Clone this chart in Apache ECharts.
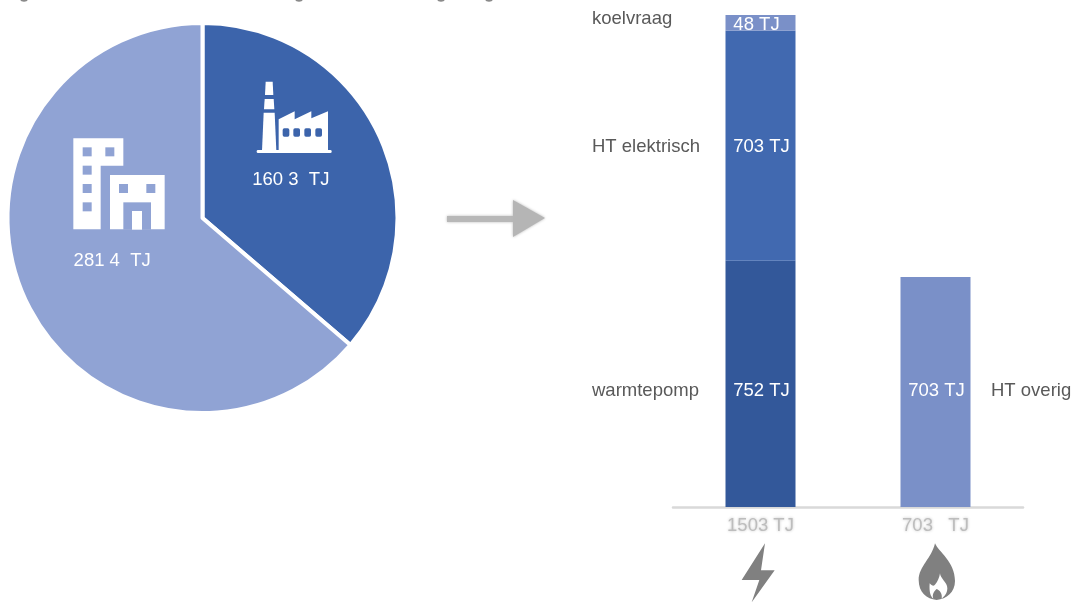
<!DOCTYPE html>
<html><head><meta charset="utf-8">
<style>html,body{margin:0;padding:0;background:#fff}#c{width:1073px;height:602px}</style>
<script src="https://cdn.jsdelivr.net/npm/echarts@6/dist/echarts.min.js"></script>
</head><body><div id="c"></div>
<script>
// Pie
const pieNames = ['industrie', 'gebouwen'];
const pieValues = [160.3, 281.4];
const pieLabels = ['160 3  TJ', '281 4  TJ'];
// Bars
const barCategories = ['1503 TJ', '703   TJ'];
const warmtepomp = [752, null];
const htElektrisch = [703, null];
const koelvraag = [48, null];
const htOverig = [null, 703];
const barLabels = { warmtepomp: '752 TJ', htElektrisch: '703 TJ', koelvraag: '48 TJ', htOverig: '703 TJ' };
const FONT = '"Liberation Sans", Arial, Helvetica, sans-serif';
const TEXT = '#595959';
const FS = 18.5;

echarts.graphic.registerShape('flameOuter', echarts.graphic.extendPath('M825 145 C835 170 885 200 885 258 C885 292 860 312 830 315 C800 312 776 292 776 255 C776 215 815 190 825 145 Z'));
echarts.graphic.registerShape('flameInner', echarts.graphic.extendPath('M840 235 C840 250 862 262 862 280 C862 295 853 305 845 311 C848 295 838 285 830 282 C823 288 815 298 820 311 C812 305 807 292 809 265 C815 272 822 275 826 268 C833 260 838 248 840 235 Z'));

const chart = echarts.init(document.getElementById('c'), null, { renderer: 'canvas' });

function barSeries(name, data, color, label, offsetX, offsetY) {
  return {
    name, type: 'bar', stack: 'total', data, barWidth: 70,
    itemStyle: { color },
    label: {
      show: true, position: 'inside', formatter: label, color: '#fff',
      fontFamily: FONT, fontSize: FS, offset: [offsetX, offsetY]
    }
  };
}
function nameText(text, x, y) {
  return { type: 'text', x, y, z: 20, style: { text, fill: TEXT, font: FS + 'px ' + FONT, textVerticalAlign: 'middle' } };
}
const Z = 20;
function rect(x, y, width, height, fill, r, z) {
  return { type: 'rect', z: z || Z, shape: { x, y, width, height, r: r || 0 }, style: { fill } };
}
function poly(points, fill) {
  return { type: 'polygon', z: Z, shape: { points }, style: { fill } };
}
const LIGHT = '#90A3D4', DARK = '#3C64AB', WHITE = '#ffffff', GREY = '#808080';

// icons are laid out in 3x-zoom units; later shapes use a higher z so they sit on top
const building = {
  type: 'group', x: 40, y: 70, scaleX: 1 / 3, scaleY: 1 / 3,
  children: [
    poly([[100, 205], [250, 205], [250, 287], [182, 287], [182, 478], [100, 478]], WHITE),
    rect(210, 315, 164, 163, WHITE),
    rect(128, 232, 27, 27, LIGHT, 0, 21), rect(196, 232, 27, 27, LIGHT, 0, 21),
    rect(128, 287, 27, 27, LIGHT, 0, 21), rect(128, 342, 27, 27, LIGHT, 0, 21), rect(128, 397, 27, 27, LIGHT, 0, 21),
    rect(237, 342, 27, 27, LIGHT, 0, 21), rect(319, 342, 27, 27, LIGHT, 0, 21),
    rect(250, 397, 83, 82, LIGHT, 0, 21),
    rect(276, 423, 30, 56, WHITE, 0, 22)
  ]
};
const factory = {
  type: 'group', x: 40, y: 70, scaleX: 1 / 3, scaleY: 1 / 3,
  children: [
    poly([[677, 35], [698, 35], [700, 75], [675, 75]], WHITE),
    poly([[674, 87], [701, 87], [703, 118], [672, 118]], WHITE),
    poly([[671, 128], [704, 128], [709, 242], [666, 242]], WHITE),
    rect(650, 240, 225, 9, WHITE, 4),
    poly([[716, 148], [764, 124], [764, 148], [814, 124], [814, 145], [864, 124], [864, 242], [716, 242]], WHITE),
    rect(728, 175, 20, 25, DARK, 5, 21), rect(760, 175, 20, 25, DARK, 5, 21),
    rect(793, 175, 20, 25, DARK, 5, 21), rect(826, 175, 20, 25, DARK, 5, 21)
  ]
};
const bolt = {
  type: 'group', x: 660, y: 495, scaleX: 1 / 3, scaleY: 1 / 3,
  children: [poly([[315, 145], [245, 255], [298, 255], [275, 322], [344, 226], [303, 226]], GREY)]
};
const flame = {
  type: 'group', x: 660, y: 495, scaleX: 1 / 3, scaleY: 1 / 3,
  children: [
    { type: 'flameOuter', z: 20, style: { fill: GREY } },
    { type: 'flameInner', z: 21, style: { fill: WHITE } }
  ]
};
const arrow = {
  type: 'group',
  children: [
    { type: 'rect', z: 15, shape: { x: 447, y: 216, width: 67, height: 6 }, style: { fill: '#b8b8b8', shadowBlur: 3, shadowColor: '#b8b8b8' } },
    { type: 'polygon', z: 15, shape: { points: [[513, 200], [545, 218], [513, 237]] }, style: { fill: '#b5b5b5', shadowBlur: 3, shadowColor: '#b5b5b5' } }
  ]
};
// clipped descenders of a title that runs off the top edge
const clipped = [24, 299, 441, 489].map(cx => ({
  type: 'ellipse', z: 20, shape: { cx, cy: 0, rx: 3.5, ry: 1.7 }, style: { fill: '#8a8a8a' }
}));

chart.setOption({
  animation: false,
  backgroundColor: '#fff',
  grid: { left: 673, width: 350, top: 15, height: 492, containLabel: false },
  xAxis: {
    type: 'category', data: barCategories,
    axisLine: { lineStyle: { color: '#d9d9d9', width: 2.5 } },
    axisTick: { show: false },
    axisLabel: {
      color: '#bdbdbd', fontFamily: FONT, fontSize: FS, margin: 9,
      textShadowColor: '#c4c4c4', textShadowBlur: 3
    }
  },
  yAxis: { type: 'value', min: 0, max: 1503, show: false, splitLine: { show: false } },
  series: [
    {
      type: 'pie', center: [202.5, 218], radius: [0, 195], startAngle: 90, clockwise: true,
      data: pieValues.map((value, i) => ({
        name: pieNames[i], value,
        itemStyle: { color: i === 0 ? DARK : LIGHT },
        label: { formatter: pieLabels[i], offset: i === 0 ? [-3, 4] : [1, 1] }
      })),
      itemStyle: { borderColor: '#fff', borderWidth: 4 },
      label: { show: true, position: 'inside', color: '#fff', fontFamily: FONT, fontSize: FS },
      labelLine: { show: false },
      emphasis: { disabled: true }
    },
    barSeries('warmtepomp', warmtepomp, '#33589A', barLabels.warmtepomp, 1, 7),
    barSeries('HT elektrisch', htElektrisch, '#4169B0', barLabels.htElektrisch, 1, 1),
    barSeries('koelvraag', koelvraag, '#7A90C8', barLabels.koelvraag, -4, 2),
    barSeries('HT overig', htOverig, '#7A90C8', barLabels.htOverig, 1, -1)
  ],
  graphic: { elements: [
    building, factory, bolt, flame, arrow, ...clipped,
    nameText('koelvraag', 592, 19),
    nameText('HT elektrisch', 592, 147),
    nameText('warmtepomp', 592, 391),
    nameText('HT overig', 991, 391)
  ] }
});
</script></body></html>
